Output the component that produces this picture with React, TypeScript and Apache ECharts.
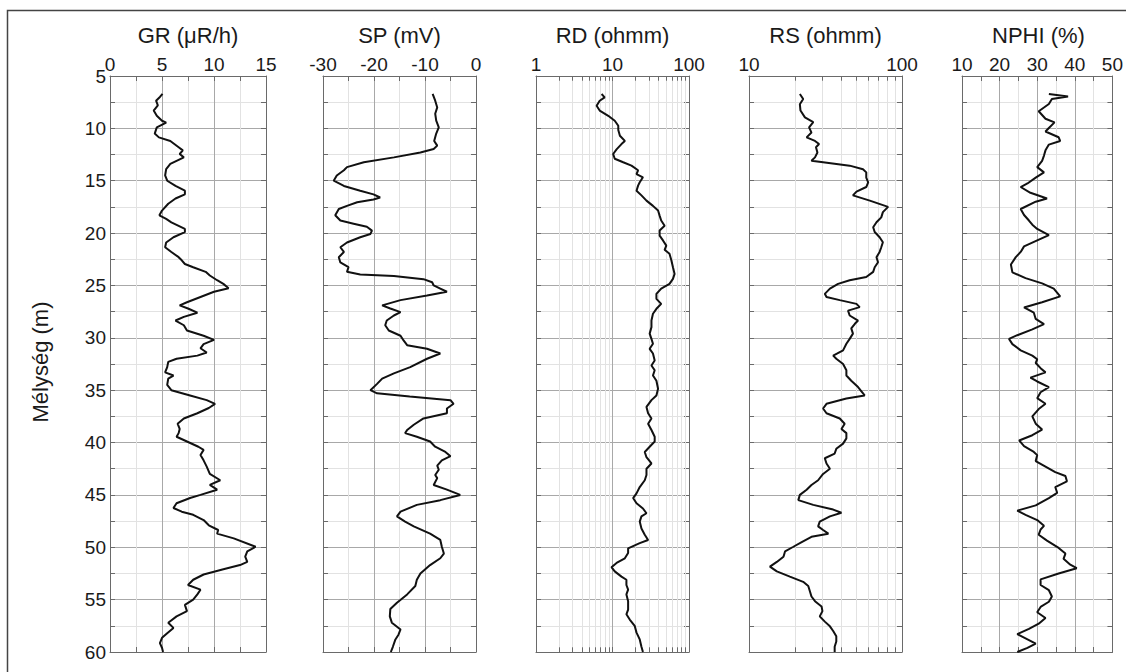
import React, { useEffect, useRef } from "react";
import * as echarts from "echarts";

// ---------- data ----------
const titles = ["GR (μR/h)", "SP (mV)", "RD (ohmm)", "RS (ohmm)", "NPHI (%)"];
const depthAxisName = "Mélység (m)";
const depthMin = 5;
const depthMax = 60;
const depthStep = 5;

const grDepth = [6.7, 7.0, 7.36, 7.8, 8.3, 8.8, 9.27, 9.45, 9.9, 10.5, 10.86, 11.2, 11.8, 12.1, 12.45, 12.77, 13.1, 13.4, 13.9, 14.5, 15.0, 15.5, 15.95, 16.3, 16.7, 17.2, 17.85, 18.3, 18.65, 18.97, 19.6, 19.9, 20.4, 20.9, 21.35, 21.8, 22.3, 22.6, 22.95, 23.26, 23.7, 24.05, 24.5, 24.85, 25.26, 25.6, 26.1, 26.6, 26.9, 27.2, 27.6, 28.0, 28.35, 28.8, 29.3, 29.8, 30.2, 30.6, 31.0, 31.4, 31.7, 32.0, 32.3, 32.8, 33.3, 33.6, 33.9, 34.5, 35.0, 35.5, 35.95, 36.3, 36.7, 37.2, 37.7, 38.2, 38.7, 39.1, 39.45, 39.9, 40.4, 40.7, 41.2, 41.7, 42.3, 43.0, 43.6, 44.05, 44.5, 45.0, 45.3, 45.8, 46.25, 46.6, 46.9, 47.4, 47.9, 48.35, 48.7, 49.15, 49.95, 50.4, 50.9, 51.4, 51.7, 52.1, 52.6, 53.1, 53.6, 54.05, 54.5, 55.0, 55.5, 56.1, 56.6, 57.2, 57.7, 58.2, 58.65, 59.15, 59.6, 60.0];
const grValue = [5.05, 4.8, 4.43, 4.6, 4.2, 4.5, 5.0, 5.4, 4.5, 4.3, 4.7, 5.8, 6.6, 7.0, 6.7, 7.1, 6.4, 5.8, 5.4, 5.3, 5.5, 6.3, 7.2, 7.2, 6.3, 5.6, 5.0, 4.75, 5.4, 5.9, 7.2, 7.2, 6.1, 5.4, 5.3, 5.9, 6.6, 6.9, 7.2, 8.0, 9.2, 9.6, 10.3, 10.9, 11.4, 10.0, 8.7, 7.4, 6.7, 7.5, 8.4, 7.1, 6.3, 7.1, 7.4, 9.0, 10.0, 9.0, 8.7, 9.3, 8.4, 6.4, 5.6, 5.5, 5.3, 6.1, 5.6, 5.5, 5.9, 7.7, 9.3, 10.1, 9.5, 8.4, 7.1, 6.5, 6.7, 6.6, 6.4, 7.4, 8.5, 9.0, 8.7, 9.0, 9.3, 9.6, 10.6, 9.6, 10.3, 8.7, 7.7, 6.4, 6.1, 6.9, 8.0, 9.0, 9.5, 10.4, 10.3, 11.9, 14.0, 13.2, 13.0, 13.2, 12.5, 10.9, 9.0, 8.0, 7.5, 8.7, 8.4, 8.0, 7.2, 7.4, 6.4, 5.6, 6.1, 5.5, 5.0, 4.8, 5.0, 5.1];

const spDepth = [6.7, 7.36, 8.0, 8.6, 9.27, 9.9, 10.5, 11.2, 11.65, 11.97, 12.3, 12.77, 13.24, 13.7, 14.0, 14.5, 15.0, 15.5, 15.95, 16.3, 16.6, 16.8, 17.06, 17.4, 17.7, 18.3, 18.8, 19.1, 19.4, 19.76, 20.08, 20.4, 20.9, 21.35, 21.8, 22.3, 22.8, 23.26, 23.7, 23.96, 24.1, 24.4, 24.7, 25.0, 25.3, 25.6, 25.96, 26.4, 26.9, 27.2, 27.55, 27.87, 28.35, 28.8, 29.3, 29.8, 30.25, 30.7, 31.05, 31.5, 32.0, 32.8, 33.4, 33.9, 34.4, 35.0, 35.3, 35.6, 35.95, 36.3, 36.75, 37.2, 37.7, 38.3, 38.8, 39.1, 39.45, 39.9, 40.4, 40.9, 41.3, 41.7, 42.2, 42.6, 43.1, 43.4, 44.05, 44.5, 45.0, 45.5, 45.95, 46.6, 47.05, 47.55, 48.0, 48.7, 49.3, 49.95, 50.6, 51.05, 51.7, 52.5, 53.1, 53.7, 54.5, 55.3, 55.9, 56.6, 57.2, 57.85, 58.35, 58.8, 59.5, 60.0];
const spValue = [-8.5, -8.0, -7.6, -8.0, -7.8, -7.3, -7.8, -8.2, -7.6, -8.3, -10.9, -16.1, -22.0, -25.3, -25.9, -27.3, -27.9, -25.9, -22.7, -20.1, -18.8, -20.1, -23.3, -25.3, -26.9, -27.6, -26.6, -24.0, -21.4, -20.4, -20.7, -22.7, -25.3, -26.6, -25.9, -26.9, -26.6, -25.0, -25.3, -22.7, -16.1, -10.3, -8.6, -8.3, -7.0, -5.7, -9.6, -14.8, -18.4, -16.8, -14.8, -16.1, -17.5, -17.8, -17.1, -14.8, -14.2, -13.5, -9.6, -7.0, -9.6, -12.9, -16.1, -18.4, -19.4, -20.7, -19.4, -13.0, -5.0, -4.4, -5.7, -5.7, -10.3, -12.2, -13.5, -13.9, -11.6, -9.0, -8.0, -6.0, -5.0, -6.7, -7.6, -7.3, -8.0, -7.6, -8.3, -5.7, -3.1, -7.0, -11.6, -14.8, -15.5, -13.9, -12.2, -9.0, -7.0, -6.7, -6.3, -7.0, -9.0, -10.9, -11.6, -11.9, -13.5, -15.5, -16.8, -16.9, -16.5, -14.8, -15.2, -15.8, -16.3, -16.7];

const rdDepth = [6.72, 7.04, 7.36, 7.84, 8.3, 8.8, 9.27, 9.75, 10.16, 10.7, 11.2, 11.5, 12.0, 12.45, 12.9, 13.24, 13.56, 14.0, 14.36, 14.67, 15.15, 15.47, 15.95, 16.4, 16.9, 17.4, 17.85, 18.33, 18.8, 19.3, 19.76, 20.24, 20.7, 21.2, 21.6, 21.98, 22.6, 23.26, 23.9, 24.37, 24.85, 25.3, 25.8, 26.28, 26.76, 27.23, 27.7, 28.35, 28.98, 29.6, 30.1, 30.57, 31.05, 31.5, 32.16, 32.64, 33.1, 33.6, 34.1, 34.86, 35.5, 35.95, 36.6, 37.2, 37.7, 38.2, 38.8, 39.45, 39.9, 40.4, 40.9, 41.4, 42.0, 42.5, 43.1, 43.6, 44.25, 44.85, 45.3, 45.8, 46.3, 46.75, 47.05, 47.55, 48.2, 48.8, 49.3, 49.6, 50.1, 50.55, 51.05, 51.5, 51.9, 52.3, 52.8, 53.1, 53.6, 54.05, 54.5, 55.15, 55.95, 56.4, 56.9, 57.5, 58.15, 58.8, 59.5, 60.0];
const rdValue = [7.2, 7.9, 6.8, 6.2, 6.8, 8.8, 10.7, 11.9, 11.9, 12.5, 14.5, 13.1, 11.3, 10.2, 10.7, 13.8, 17.7, 21.6, 20.6, 25.0, 22.7, 21.6, 20.6, 23.9, 27.8, 33.8, 39.4, 41.3, 43.3, 48.0, 41.3, 41.3, 45.7, 50.5, 48.0, 55.6, 58.8, 61.7, 64.8, 61.7, 55.6, 43.3, 37.5, 37.5, 43.3, 37.5, 33.8, 32.3, 32.3, 30.6, 32.3, 33.8, 30.6, 33.8, 35.6, 32.3, 35.6, 33.8, 37.5, 39.4, 37.5, 32.3, 27.8, 29.2, 32.3, 29.2, 32.3, 35.6, 35.6, 30.6, 26.4, 27.8, 32.3, 27.8, 27.8, 26.4, 22.7, 20.6, 18.6, 20.6, 25.0, 27.8, 23.9, 22.7, 23.9, 26.4, 29.2, 22.7, 16.0, 16.0, 14.5, 11.3, 9.7, 10.7, 13.1, 15.2, 15.2, 16.0, 15.2, 16.0, 16.0, 15.2, 16.8, 19.5, 20.6, 22.7, 23.9, 25.0];

const rsDepth = [6.72, 7.2, 7.7, 8.3, 8.95, 9.4, 9.9, 10.4, 10.86, 11.2, 11.5, 11.8, 12.3, 12.77, 13.1, 13.24, 13.56, 13.9, 14.2, 14.7, 15.15, 15.6, 16.04, 16.4, 16.9, 17.5, 18.0, 18.5, 18.97, 19.44, 19.9, 20.4, 20.87, 21.35, 21.8, 22.3, 22.78, 23.26, 23.7, 24.2, 24.5, 24.85, 25.3, 25.8, 26.1, 26.4, 26.76, 27.07, 27.4, 27.87, 28.35, 28.66, 29.1, 29.6, 30.1, 30.57, 31.2, 31.7, 32.0, 32.5, 33.1, 33.6, 34.1, 34.7, 35.5, 35.8, 36.3, 36.75, 37.2, 37.7, 38.2, 38.7, 39.1, 39.6, 40.1, 40.6, 41.05, 41.5, 42.0, 42.5, 43.0, 43.6, 44.05, 44.5, 45.0, 45.5, 45.95, 46.4, 46.7, 47.05, 47.55, 48.0, 48.35, 48.7, 49.0, 49.5, 49.95, 50.4, 50.9, 51.4, 51.85, 52.3, 52.8, 53.3, 53.7, 54.2, 54.7, 55.15, 55.65, 56.1, 56.6, 57.1, 57.55, 58.0, 58.5, 59.0, 59.5, 60.0];
const rsValue = [21.5, 22.6, 21.5, 21.7, 23.2, 26.3, 24.7, 25.6, 23.8, 27.0, 28.7, 27.4, 28.0, 27.0, 25.6, 30.5, 45.5, 55.6, 58.4, 58.4, 60.1, 58.4, 50.4, 47.8, 61.6, 81.1, 75.0, 73.2, 68.1, 64.8, 66.3, 71.4, 75.0, 73.2, 71.4, 68.1, 69.7, 66.3, 64.8, 58.4, 45.5, 38.2, 33.8, 31.3, 32.1, 39.2, 50.4, 52.9, 44.4, 45.5, 51.6, 49.2, 46.6, 47.8, 45.5, 43.3, 41.2, 35.5, 37.2, 41.2, 43.3, 43.3, 46.6, 51.6, 57.0, 43.3, 32.1, 30.5, 32.1, 39.2, 42.2, 40.2, 43.3, 43.3, 41.2, 37.2, 36.3, 31.3, 32.1, 33.8, 30.5, 28.3, 25.6, 23.8, 21.5, 21.0, 26.3, 35.5, 40.2, 33.8, 29.0, 28.3, 30.5, 33.0, 25.6, 22.1, 19.5, 17.2, 16.8, 15.2, 13.7, 15.2, 18.5, 22.6, 24.4, 25.0, 25.6, 27.0, 29.8, 30.2, 29.0, 31.3, 33.8, 35.5, 37.2, 37.2, 36.3, 36.3];

const nphiDepth = [6.71, 6.96, 7.2, 7.67, 8.37, 9.08, 9.43, 9.96, 10.3, 10.85, 11.2, 11.55, 12.1, 12.6, 13.1, 13.7, 14.2, 14.7, 15.26, 15.6, 16.15, 16.7, 17.0, 17.7, 18.27, 18.8, 19.2, 19.6, 20.2, 20.7, 21.27, 21.8, 22.3, 23.0, 23.75, 24.3, 24.8, 25.3, 26.04, 26.6, 27.1, 27.6, 28.2, 28.7, 29.2, 29.75, 30.1, 30.6, 31.2, 31.7, 32.05, 32.4, 32.9, 33.3, 33.8, 34.17, 34.7, 35.2, 35.76, 36.3, 36.8, 37.5, 38.2, 38.76, 39.3, 39.8, 40.35, 40.9, 41.2, 41.77, 42.3, 42.83, 43.2, 43.7, 44.25, 44.8, 45.3, 46.0, 46.5, 46.9, 47.4, 47.95, 48.3, 48.8, 49.36, 50.06, 50.6, 51.1, 51.66, 52.0, 52.5, 53.07, 53.6, 54.1, 54.7, 55.2, 55.7, 56.2, 56.75, 57.3, 57.8, 58.3, 58.7, 59.2, 59.6, 60.0];
const nphiValue = [33.1, 38.2, 33.9, 33.1, 30.4, 32.2, 34.6, 33.1, 32.2, 35.7, 36.1, 33.1, 32.2, 31.8, 31.3, 30.0, 31.8, 29.6, 27.4, 25.6, 28.2, 32.6, 29.6, 25.6, 26.5, 27.8, 28.7, 30.0, 33.1, 30.0, 26.5, 25.6, 24.3, 23.0, 23.4, 26.9, 31.3, 34.4, 36.1, 31.3, 26.5, 29.1, 29.6, 31.8, 28.7, 24.7, 22.5, 23.4, 25.6, 28.7, 30.0, 29.6, 30.9, 32.2, 28.2, 30.0, 33.1, 30.9, 30.0, 32.2, 30.4, 28.7, 29.6, 31.3, 28.7, 25.2, 26.5, 29.1, 30.0, 29.6, 32.2, 34.8, 37.5, 37.9, 34.8, 35.3, 33.1, 29.6, 24.7, 26.9, 30.0, 31.8, 30.9, 30.4, 32.6, 35.7, 37.5, 37.0, 38.8, 40.5, 35.7, 30.9, 30.9, 33.1, 33.9, 33.1, 30.9, 30.0, 32.2, 30.4, 27.8, 24.7, 26.9, 29.6, 27.4, 24.7];

// log-axis minor grid values
const rdMinor = [2, 3, 4, 5, 6, 7, 8, 9, 20, 30, 40, 50, 60, 70, 80, 90];
const rsMinor = [20, 30, 40, 50, 60, 70, 80, 90];

// ---------- layout / style ----------
const PLOT_TOP = 76;
const PLOT_H = 576;
const FONT = "'Liberation Sans', Arial, Helvetica, sans-serif";
const TEXT = "#1a1a1a";
const BORDER = "#6a6a6a";
const MAJOR = "#a8a8a8";
const MINOR = "#e2e2e2";
const TICK_FS = 19;
const TITLE_FS = 22;

const panels: any[] = [
  { left: 110, width: 156, type: "value", min: 0, max: 15, interval: 5, x: grValue, d: grDepth },
  { left: 323, width: 153, type: "value", min: -30, max: 0, interval: 10, x: spValue, d: spDepth },
  { left: 536, width: 153, type: "log", min: 1, max: 100, x: rdValue, d: rdDepth, minor: rdMinor },
  { left: 749, width: 153, type: "log", min: 10, max: 100, x: rsValue, d: rsDepth, minor: rsMinor },
  { left: 962, width: 153, type: "value", min: 10, max: 50, interval: 10, x: nphiValue, d: nphiDepth },
];

function buildOption() {
  const grid: any[] = [];
  const xAxis: any[] = [];
  const yAxis: any[] = [];
  const series: any[] = [];
  const graphic: any[] = [];

  panels.forEach((p, i) => {
    grid.push({ left: p.left, top: PLOT_TOP, width: p.width, height: PLOT_H, show: false });
    const isLog = p.type === "log";
    const baseX: any = {
      gridIndex: i,
      type: p.type,
      min: p.min,
      max: p.max,
      axisLine: { show: true, onZero: false, lineStyle: { color: BORDER, width: 1 } },
      axisTick: { show: true, inside: true, length: 5, lineStyle: { color: BORDER } },
    };
    if (isLog) baseX.logBase = 10;
    else baseX.interval = p.interval;
    xAxis.push({
      ...baseX,
      position: "top",
      axisLabel: { show: true, fontSize: TICK_FS, color: TEXT, margin: 2, fontFamily: FONT },
      splitLine: { show: true, lineStyle: { color: MAJOR, width: 1 } },
      minorTick: { show: !isLog, splitNumber: 2, length: 5, lineStyle: { color: BORDER } },
      minorSplitLine: { show: !isLog, lineStyle: { color: MINOR, width: 1 } },
    });
    xAxis.push({
      ...baseX,
      position: "bottom",
      axisLabel: { show: false },
      splitLine: { show: false },
      minorTick: { show: !isLog, splitNumber: 2, length: 5, lineStyle: { color: BORDER } },
    });
    const baseY: any = {
      gridIndex: i,
      type: "value",
      inverse: true,
      min: depthMin,
      max: depthMax,
      interval: depthStep,
      axisLine: { show: true, onZero: false, lineStyle: { color: BORDER, width: 1 } },
      axisTick: { show: true, inside: true, length: 5, lineStyle: { color: BORDER } },
      minorTick: { show: true, splitNumber: 2, length: 5, lineStyle: { color: BORDER } },
    };
    yAxis.push({
      ...baseY,
      position: "left",
      axisLabel: { show: i === 0, fontSize: TICK_FS, color: TEXT, margin: 4, fontFamily: FONT },
      splitLine: { show: true, lineStyle: { color: MAJOR, width: 1 } },
      minorSplitLine: { show: true, lineStyle: { color: MINOR, width: 1 } },
    });
    yAxis.push({
      ...baseY,
      position: "right",
      axisLabel: { show: false },
      splitLine: { show: false },
    });

    const s: any = {
      type: "line",
      xAxisIndex: 2 * i,
      yAxisIndex: 2 * i,
      data: p.d.map((dep: number, k: number) => [p.x[k], dep]),
      showSymbol: false,
      symbol: "none",
      smooth: false,
      lineStyle: { color: "#111", width: 2 },
      z: 5,
    };
    if (isLog) {
      const ml: any[] = [];
      p.minor.forEach((v: number) => {
        ml.push({ xAxis: v, lineStyle: { color: MINOR, width: 1, type: "solid" } });
      });
      p.minor.forEach((v: number) => {
        ml.push([
          { coord: [v, depthMin], lineStyle: { color: BORDER, width: 1, type: "solid" } },
          { coord: [v, depthMin + 0.45] },
        ]);
        ml.push([
          { coord: [v, depthMax], lineStyle: { color: BORDER, width: 1, type: "solid" } },
          { coord: [v, depthMax - 0.45] },
        ]);
      });
      s.markLine = {
        silent: true,
        symbol: ["none", "none"],
        label: { show: false },
        emphasis: { disabled: true },
        animation: false,
        data: ml,
      };
    }
    series.push(s);

    graphic.push({
      type: "text",
      x: p.left + p.width / 2,
      y: 35,
      style: { text: titles[i], fontSize: TITLE_FS, fontFamily: FONT, fill: TEXT, textAlign: "center", textVerticalAlign: "middle" },
    });
  });

  graphic.push({
    type: "text",
    x: 40,
    y: PLOT_TOP + PLOT_H / 2 - 2,
    rotation: Math.PI / 2,
    style: { text: depthAxisName, fontSize: 22, fontFamily: FONT, fill: TEXT, textAlign: "center", textVerticalAlign: "middle" },
  });
  graphic.push({
    type: "rect",
    shape: { x: 7.5, y: 10.5, width: 1130, height: 680 },
    style: { fill: "none", stroke: "#444", lineWidth: 1.5 },
    silent: true,
  });

  return {
    animation: false,
    backgroundColor: "#ffffff",
    textStyle: { fontFamily: FONT },
    grid,
    xAxis,
    yAxis,
    series,
    graphic,
  };
}

export default function App() {
  const ref = useRef<HTMLDivElement>(null);
  useEffect(() => {
    if (!ref.current) return;
    const chart = echarts.init(ref.current, undefined, { renderer: "svg" });
    chart.setOption(buildOption() as any);
    return () => chart.dispose();
  }, []);
  return (
    <div
      ref={ref}
      style={{ position: "fixed", left: 0, top: 0, width: 1126, height: 672, background: "#fff" }}
    />
  );
}
